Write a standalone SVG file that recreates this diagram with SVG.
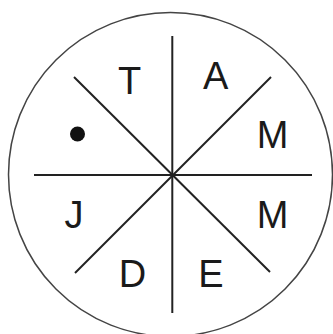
<svg xmlns="http://www.w3.org/2000/svg" width="333" height="334" viewBox="0 0 333 334">
<style>
.ln{stroke:#222;stroke-width:2;fill:none}
.lbl{font-family:"Liberation Sans",Arial,sans-serif;font-size:38px;fill:#1a1a1a;text-anchor:middle}
</style>
<rect width="333" height="334" fill="#fff"/>
<g id="circle"><ellipse cx="170.5" cy="174.5" rx="162" ry="162" fill="none" stroke="#444" stroke-width="1.5"/></g>
<g id="connectors">
<line class="ln" x1="172.3" y1="36" x2="172.3" y2="313"/>
<line class="ln" x1="34" y1="175" x2="312" y2="175"/>
<line class="ln" x1="74" y1="77" x2="270" y2="272"/>
<line class="ln" x1="271" y1="77" x2="75" y2="273"/>
</g>
<g id="n-T"><text class="lbl" x="129.5" y="94">T</text></g>
<g id="n-A"><text class="lbl" x="215.8" y="89">A</text></g>
<g id="n-M1"><text class="lbl" x="272.5" y="148">M</text></g>
<g id="n-M2"><text class="lbl" x="272.5" y="228">M</text></g>
<g id="n-E"><text class="lbl" x="211" y="287">E</text></g>
<g id="n-D"><text class="lbl" x="132.5" y="287">D</text></g>
<g id="n-J"><text class="lbl" x="74" y="228">J</text></g>
<g id="n-dot"><circle cx="77.5" cy="134" r="7.5" fill="#111"/></g>
</svg>
